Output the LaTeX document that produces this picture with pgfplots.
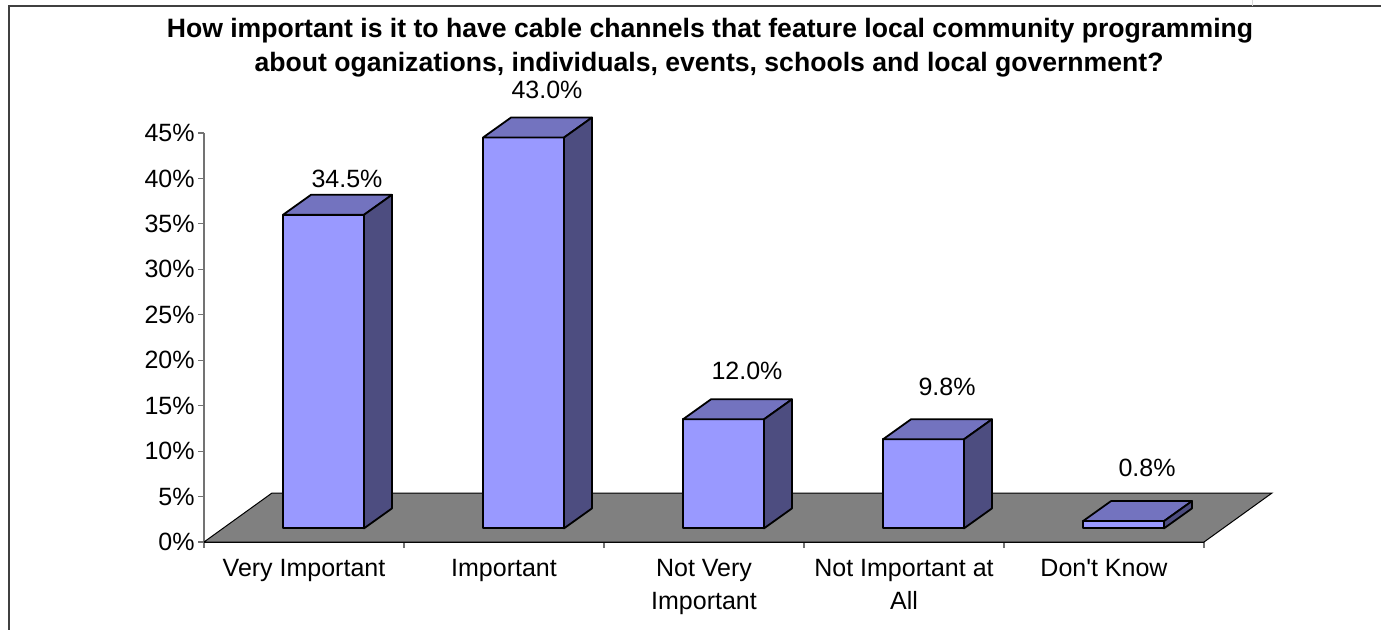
\documentclass[border=0pt]{standalone}
\usepackage{pgfplots}
\usepackage{pgfplotstable}
\pgfplotsset{compat=1.18}
\usepackage{fontspec}
\setmainfont{Liberation Sans}
\definecolor{barfront}{HTML}{9999FF}
\definecolor{bartop}{HTML}{7373BF}
\definecolor{barside}{HTML}{4D4D80}
\definecolor{floorc}{HTML}{808080}
\definecolor{framec}{HTML}{404040}
\pgfplotstableread{
x v ly
0 34.5 25
1 43.0 30.5
2 12.0 31
3 9.8 33
4 0.8 33.5
}\bardata
\pgfdeclareplotmark{none3d}{}
\begin{document}
\begin{tikzpicture}
\useasboundingbox (0pt,0pt) rectangle (690.5pt,314.5pt);
\draw[framec, line width=1pt] (4.5pt,-10pt) -- (4.5pt,311.5pt) -- (700pt,311.5pt);
\draw[black!15, line width=0.5pt] (626pt,311.5pt) -- (626pt,320pt);
\begin{axis}[
  at={(102pt,43.5pt)}, anchor=south west,
  scale only axis, width=500pt, height=204.5pt,
  xmin=-0.5, xmax=4.5, ymin=0, ymax=45,
  clip=false,
  axis lines*=left,
  x axis line style={black, line width=0.6pt},
  y axis line style={black!55, line width=0.6pt},
  tick align=outside,
  major tick length=3pt,
  tick style={black!55, line width=0.6pt},
  xtick={-0.5,0.5,1.5,2.5,3.5,4.5},
  xticklabels={Very Important, Important, {Not Very\\Important}, {Not Important at\\All}, Don\textquotesingle t Know, {}},
  ytick={0,5,...,45},
  yticklabel={\pgfmathprintnumber{\tick}\%},
  /pgf/number format/assume math mode=true,
  ticklabel style={font=\fontsize{12.5}{16.5}\selectfont, text=black},
  xticklabel style={align=center, xshift=50pt, yshift=-2pt},
  yticklabel style={inner sep=1.5pt},
]
% floor
\addplot[fill=floorc, draw=black, line width=0.5pt] coordinates {(-0.5,0) (4.5,0) (4.84,5.39) (-0.16,5.39) (-0.5,0)};
% 3D bars, one cuboid per data point
\addplot[only marks, mark=none3d,
  visualization depends on={\thisrow{v}\as\barv},
  point meta=explicit,
  nodes near coords={\hbox{}},
  every node near coord/.append style={
    anchor=center, inner sep=0pt, outer sep=0pt,
    minimum width=92pt,
    minimum height={2*\barv*4.5444pt+40pt},
    path picture={%
      \pgfmathsetmacro\barh{\barv*4.5444}%
      \begin{scope}[line width=0.9pt, line join=round, draw=black]
        \filldraw[fill=barfront] (-10.5pt,6.82pt) rectangle (30pt,6.82pt-\barh pt);
        \filldraw[fill=bartop] (-10.5pt,6.82pt) -- (30pt,6.82pt) -- (44pt,16.82pt) -- (3.5pt,16.82pt) -- cycle;
        \filldraw[fill=barside] (30pt,6.82pt) -- (44pt,16.82pt) -- (44pt,16.82pt-\barh pt) -- (30pt,6.82pt-\barh pt) -- cycle;
      \end{scope}
    },
  },
] table[x=x, y=v, meta=v] {\bardata};
% value labels
\addplot[only marks, mark=none3d,
  visualization depends on={\thisrow{ly}\as\labely},
  point meta=explicit,
  nodes near coords={\pgfmathprintnumber[fixed,fixed zerofill,precision=1]{\pgfplotspointmeta}\%},
  every node near coord/.append style={anchor=center, xshift=21.5pt, yshift=\labely pt, text=black, font=\fontsize{12.5}{15}\selectfont},
] table[x=x, y=v, meta=v] {\bardata};
\end{axis}
\node[font=\bfseries\fontsize{13.3}{16}\selectfont, anchor=base] at (355pt,296pt) {How important is it to have cable channels that feature local community programming};
\node[font=\bfseries\fontsize{13.3}{16}\selectfont, anchor=base] at (354.5pt,279pt) {about oganizations, individuals, events, schools and local government?};
\end{tikzpicture}
\end{document}
